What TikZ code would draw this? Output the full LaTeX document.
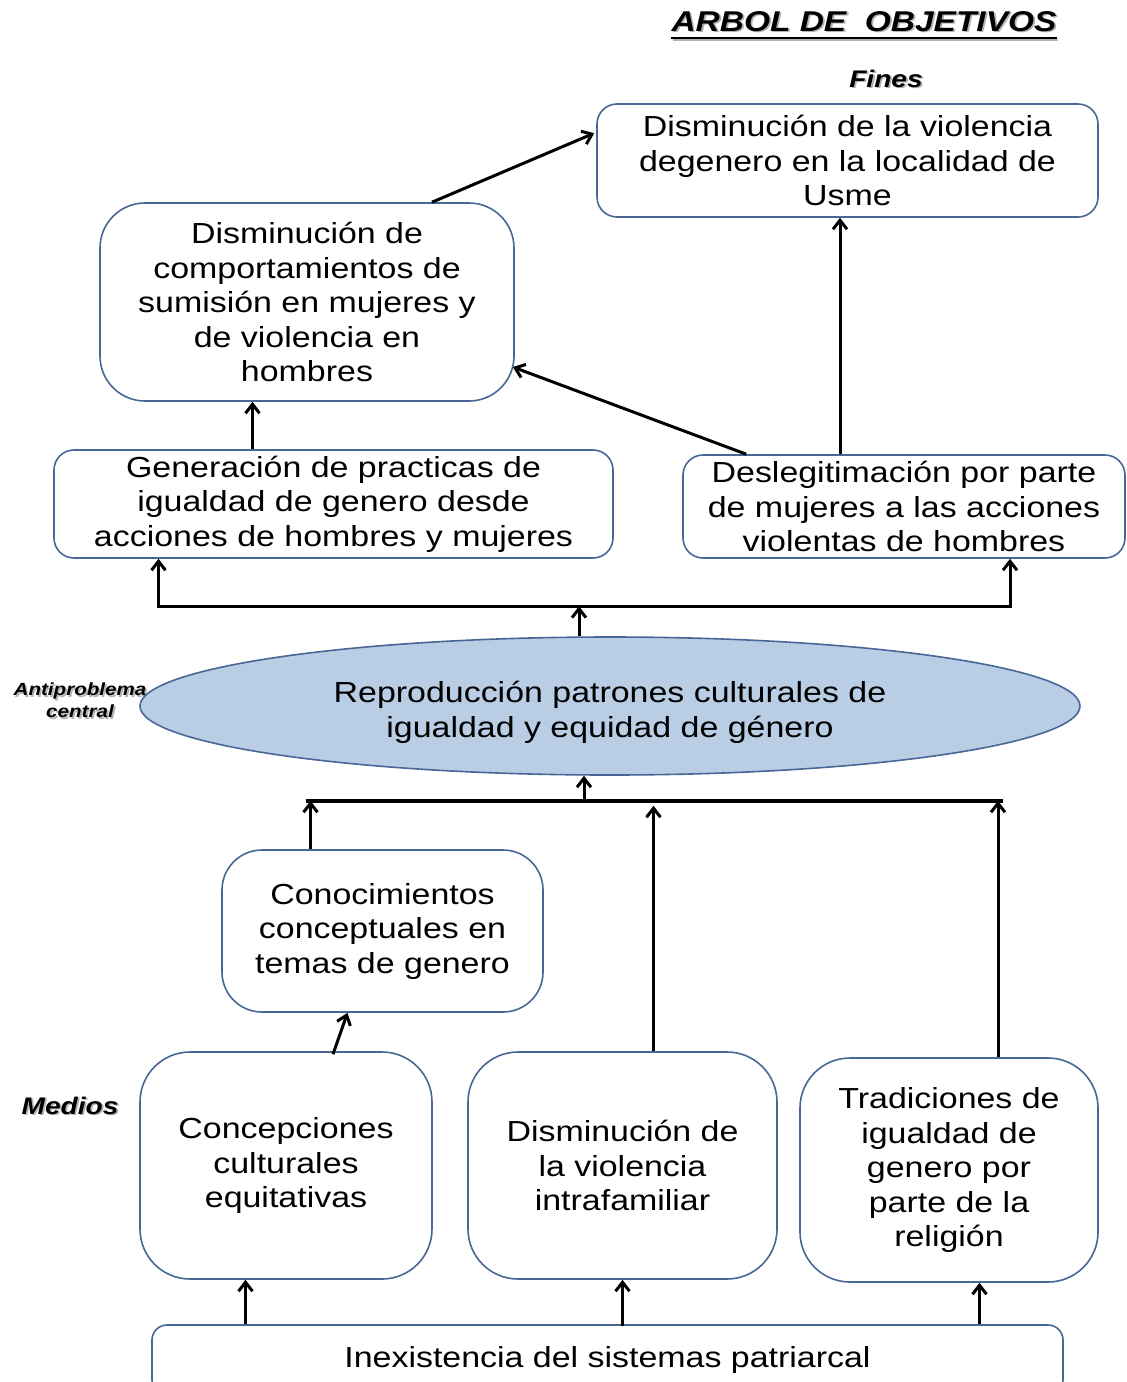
\documentclass[tikz,border=0pt]{standalone}
\usepackage{fontspec}
\setmainfont{Liberation Sans}[FakeStretch=1.17]
\usetikzlibrary{arrows.meta,calc,shapes.geometric}

\definecolor{boxline}{RGB}{72,102,150}
\definecolor{ellfill}{RGB}{185,205,229}

% gray drop shadow behind a label
\newcommand{\shtext}[1]{\makebox[0pt][l]{\hspace{1.8pt}\raisebox{-1.8pt}{\textcolor{black!30}{#1}}}#1}

\tikzset{
  box/.style={draw=boxline, line width=1.6pt, rounded corners=20pt, align=center,
    inner sep=0pt, font=\fontsize{29}{34.5}\selectfont},
  arr/.style={->, line width=3pt, >={Straight Barb[length=9pt,width=14pt]}},
  bar/.style={line width=3.4pt},
  label/.style={inner sep=0pt, font=\bfseries\itshape}
}

\begin{document}
\begin{tikzpicture}[x=1pt, y=-1pt]
\useasboundingbox (0,0) rectangle (1127,1382);
\clip (0,0) rectangle (1127,1382);

% labels
\node[label, anchor=base, font=\fontsize{28.6}{32}\selectfont\bfseries\itshape] (title) at (864,31) {\shtext{ARBOL DE\ \ OBJETIVOS}};
\draw[line width=2.6pt, black!30] ($(title.base west)+(1.8,8.8)$) -- ($(title.base east)+(1.8,8.8)$);
\draw[line width=2.6pt] ($(title.base west)+(0,7)$) -- ($(title.base east)+(0,7)$);
\node[label, anchor=base, font=\fontsize{24}{28}\selectfont\bfseries\itshape] (fines) at (886,87) {\shtext{Fines}};
\node[label, align=center, font=\fontsize{17.6}{22}\selectfont\bfseries\itshape] (anti) at (80,701) {\shtext{Antiproblema}\\\shtext{central}};
\node[label, anchor=base, font=\fontsize{24}{28}\selectfont\bfseries\itshape] (medios) at (70,1114) {\shtext{Medios}};

% fines
\node[box, minimum width=501pt, minimum height=113pt] (F1) at (847.5,160.5)
  {Disminución de la violencia\\degenero en la localidad de\\Usme};
\node[box, rounded corners=45pt, minimum width=414pt, minimum height=198pt] (F2) at (307,302)
  {Disminución de\\comportamientos de\\sumisión en mujeres y\\de violencia en\\hombres};
\node[box, minimum width=559pt, minimum height=108pt] (G) at (333.5,504)
  {Generación de practicas de\\igualdad de genero desde\\acciones de hombres y mujeres};
\node[box, minimum width=442pt, minimum height=103pt] (D) at (904,506.5)
  {Deslegitimación por parte\\de mujeres a las acciones\\violentas de hombres};

% antiproblema
\node[ellipse, draw=boxline, line width=1.6pt, fill=ellfill, inner sep=0pt, align=center,
  minimum width=940pt, minimum height=138pt, font=\fontsize{29}{34.5}\selectfont] (E) at (610,706)
  {\rule{0pt}{34pt}Reproducción patrones culturales de\\igualdad y equidad de género};

% medios
\node[box, rounded corners=40pt, minimum width=321pt, minimum height=162pt] (C) at (382.5,931)
  {Conocimientos\\conceptuales en\\temas de genero};
\node[box, rounded corners=50pt, minimum width=292pt, minimum height=227pt] (M1) at (286,1165.5)
  {Concepciones\\culturales\\equitativas};
\node[box, rounded corners=50pt, minimum width=309pt, minimum height=227pt] (M2) at (622.5,1165.5)
  {Disminución de\\la violencia\\intrafamiliar};
\node[box, rounded corners=50pt, minimum width=298pt, minimum height=224pt] (M3) at (949,1170)
  {Tradiciones de\\igualdad de\\genero por\\parte de la\\religión};
\node[box, rounded corners=15pt, minimum width=911pt, minimum height=70pt] (B) at (607.5,1360)
  {Inexistencia del sistemas patriarcal};

% upper connectors
\draw[arr] ($(F2.north)+(125,0)$) -- ($(F1.north west)+(-2,30)$);
\coordinate (ga) at ($(G.north)+(-81,0)$);
\draw[arr] (ga) -- (ga |- F2.south);
\draw[arr] ($(D.north west)+(64,0)$) -- ($(F2.east)+(-2,65)$);
\coordinate (da) at ($(D.north)+(-64,0)$);
\draw[arr] (da) -- (da |- F1.south);

\coordinate (tbar) at ($(E.north)+(-31,-30)$);
\coordinate (gb) at ($(G.south)+(-175,0)$);
\coordinate (db) at ($(D.south)+(106,0)$);
\draw[arr, <->, line join=miter] (gb) -- (gb |- tbar) -- (db |- tbar) -- (db);
\draw[arr] (E.north -| tbar) -- (tbar);

% lower connectors
\coordinate (lbar) at ($(E.south)+(-26,25)$);
\coordinate (cb) at ($(C.north)+(-72,0)$);
\coordinate (m2t) at ($(M2.north)+(31,0)$);
\coordinate (m3t) at ($(M3.north)+(49,0)$);
\draw[bar] ($(cb |- lbar)+(-5,0)$) -- ($(m3t |- lbar)+(5,0)$);
\draw[arr] (lbar) -- (lbar |- E.south);
\draw[arr] (cb) -- (cb |- lbar);
\draw[arr] (m2t) -- ($(m2t |- lbar)+(0,5)$);
\draw[arr] (m3t) -- (m3t |- lbar);
\draw[arr] ($(M1.north)+(47,3)$) -- ($(C.south)+(-35,0)$);

\coordinate (b1) at ($(B.north)+(-362,0)$);
\coordinate (b2) at ($(B.north)+(15,2)$);
\coordinate (b3) at ($(B.north)+(372,0)$);
\draw[arr] (b1) -- (b1 |- M1.south);
\draw[arr] (b2) -- (b2 |- M2.south);
\draw[arr] (b3) -- (b3 |- M3.south);
\end{tikzpicture}
\end{document}
